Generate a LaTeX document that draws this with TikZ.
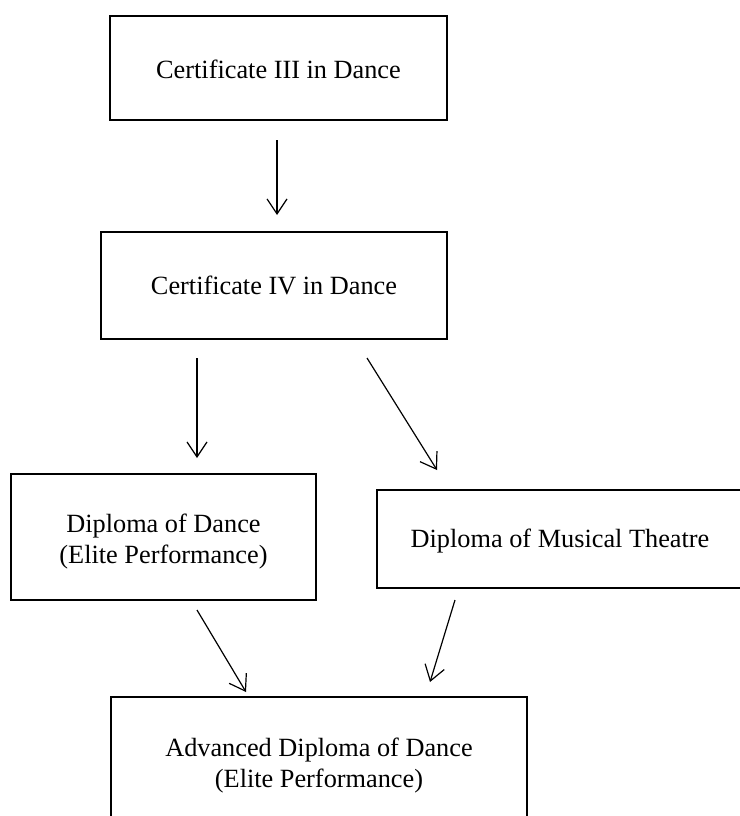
\documentclass[tikz,border=0pt]{standalone}
\usepackage{fontspec}
\setmainfont{Liberation Serif}
\usetikzlibrary{arrows.meta}
\begin{document}
\begin{tikzpicture}[x=1pt,y=-1pt,
  box/.style={draw=black,line width=1.6pt,inner sep=0pt,align=center,
    font=\fontsize{26.3}{31}\selectfont},
  link/.style={line width=1.2pt,-{Straight Barb[length=15pt,width=20pt,line width=1.2pt]}}]
\useasboundingbox (0,0) rectangle (739,816);
% boxes drawn as rectangles, labels as nodes
\draw[line width=1.6pt] (110,16) rectangle (447,120);
\node[font=\fontsize{26.3}{31}\selectfont] (c3) at (278.5,69) {Certificate III in Dance};
\draw[line width=1.6pt] (101,232) rectangle (447,339);
\node[font=\fontsize{26.3}{31}\selectfont] (c4) at (274,285) {Certificate IV in Dance};
\draw[line width=1.6pt] (11,474) rectangle (316,600);
\node[font=\fontsize{26.3}{31}\selectfont,align=center] (dd) at (163.5,542) {Diploma of Dance\\(Elite Performance)};
\draw[line width=1.6pt] (377,490) rectangle (745,588);
\node[font=\fontsize{26.3}{31}\selectfont] (dm) at (560,541) {Diploma of Musical Theatre};
\draw[line width=1.6pt] (111,697) rectangle (527,840);
\node[font=\fontsize{26.3}{31}\selectfont,align=center] (ad) at (319,766) {Advanced Diploma of Dance\\(Elite Performance)};
% arrow ends
\coordinate (a1s) at (277,140); \coordinate (a1e) at (277,215);
\coordinate (a2s) at (197,358); \coordinate (a2e) at (197,458);
\coordinate (a3s) at (367,358); \coordinate (a3e) at (437,470);
\coordinate (a4s) at (197,610); \coordinate (a4e) at (246,692);
\coordinate (a5s) at (455,600); \coordinate (a5e) at (430,682);
\draw[link] (a1s) -- (a1e);
\draw[link] (a2s) -- (a2e);
\draw[link] (a3s) -- (a3e);
\draw[link] (a4s) -- (a4e);
\draw[link] (a5s) -- (a5e);
\end{tikzpicture}
\end{document}
